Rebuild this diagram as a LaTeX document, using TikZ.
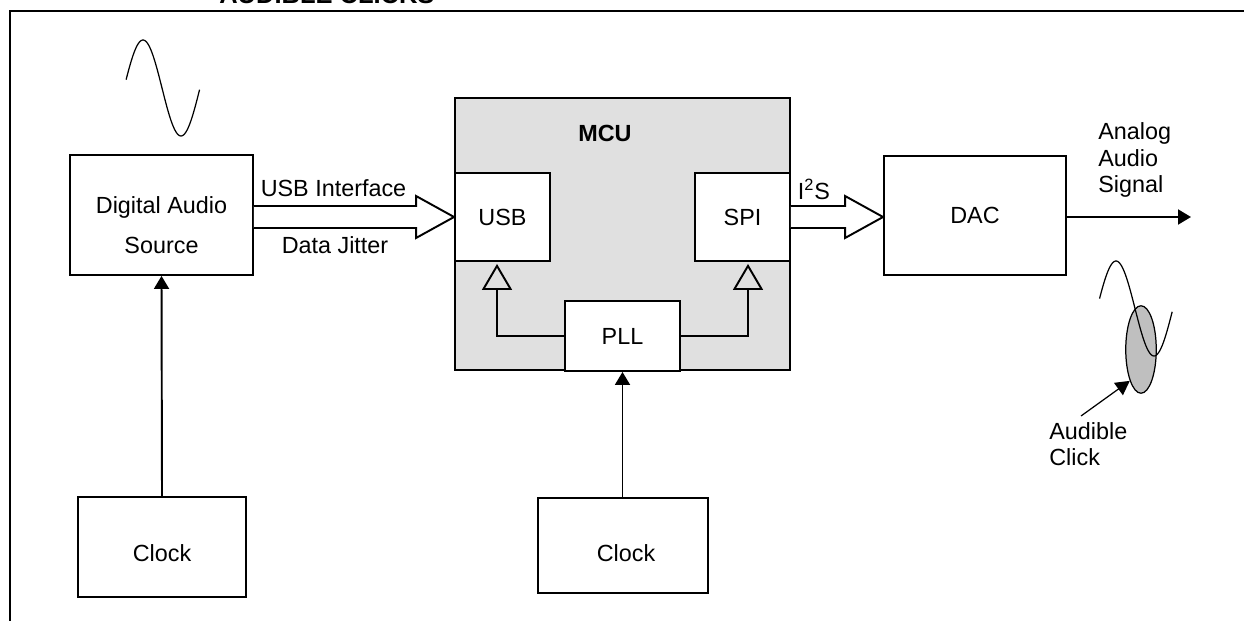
\documentclass[tikz,border=0pt]{standalone}
\usepackage{fontspec}
\setmainfont{Liberation Sans}
\usepackage{tikz}
\usetikzlibrary{arrows.meta, calc, shapes.geometric}
\definecolor{mcugray}{gray}{0.88}
\definecolor{blipgray}{gray}{0.75}
\tikzset{
  lbl/.style    ={font=\fontsize{13.3}{15.3}\selectfont, inner sep=0pt},
  blk/.style    ={draw, line width=1.1pt, fill=white, inner sep=0pt,
                  align=center, font=\fontsize{13.3}{22.7}\selectfont},
  mcubox/.style ={draw, line width=1.1pt, fill=mcugray, inner sep=0pt},
  % wide bus arrows and plain signal lines
  fat/.style    ={draw, fill=white, line width=1.1pt, line join=miter},
  sig/.style    ={-{Triangle[length=2.6mm, width=3mm]}, line width=1.1pt},
  tap/.style    ={-{Triangle[open, length=5.2mm, width=6mm]}, line width=1.1pt},
  wave/.style   ={line width=0.7pt},
  frm/.style    ={line width=1.7pt},
}

\begin{document}
\begin{tikzpicture}[x=0.02cm, y=-0.02cm]
  \useasboundingbox (0,0) rectangle (1244,621);
  \node[font=\bfseries\fontsize{14.5}{17}\selectfont, anchor=base west,
        inner sep=0pt] (ttl) at (219,4) {AUDIBLE CLICKS};
  \draw[frm] (10,625) -- (10,11) -- (1250,11);

  \node[mcubox, minimum width=6.7cm, minimum height=5.44cm] (mcu) at (622.5,234) {};
  \node[lbl, font=\bfseries\fontsize{13.3}{15.3}\selectfont] (mcut) at (605,133) {MCU};
  \node[blk, minimum width=1.9cm, minimum height=1.76cm] (usb) at (502.5,217) {USB};
  \node[blk, minimum width=1.9cm, minimum height=1.76cm] (spi) at (742.5,217) {SPI};
  \node[blk, minimum width=2.3cm, minimum height=1.4cm]  (pll) at (622.5,336) {PLL};

  \node[blk, minimum width=3.66cm, minimum height=2.4cm]  (src)  at (161.5,215) {};
  \node[blk, draw=none, fill=none] (srct) at (161.5,225) {Digital Audio\\Source};
  \node[blk, minimum width=3.36cm, minimum height=2.0cm]  (clkA) at (162,547) {};
  \node[lbl] (clkAt) at (162,553) {Clock};
  \node[blk, minimum width=3.4cm,  minimum height=1.9cm]  (clkB) at (623,545.5) {};
  \node[lbl] (clkBt) at (626,553) {Clock};
  \node[blk, minimum width=3.64cm, minimum height=2.38cm] (dac)  at (975,215.5) {DAC};

  \draw[fat] ($(src.east |- usb.west)+(0,-11)$) -- ($(usb.west)+(-38,-11)$)
    -- ($(usb.west)+(-38,-21)$) -- (usb.west) -- ($(usb.west)+(-38,21)$)
    -- ($(usb.west)+(-38,11)$) -- ($(src.east |- usb.west)+(0,11)$);
  \draw[fat] ($(spi.east)+(0,-11)$) -- ($(dac.west |- spi.east)+(-38,-11)$)
    -- ($(dac.west |- spi.east)+(-38,-21)$) -- (dac.west |- spi.east)
    -- ($(dac.west |- spi.east)+(-38,21)$) -- ($(dac.west |- spi.east)+(-38,11)$)
    -- ($(spi.east)+(0,11)$);
  \node[lbl] (usbif) at (333.5,188) {USB Interface};
  \node[lbl] (jit)   at (335,245)   {Data Jitter};
  \node[lbl] (i2s)   at (814,189)   {I\textsuperscript{2}S};

  \draw[tap] (pll.west) -| ($(usb.south)+(-5.5,2)$);
  \draw[tap] (pll.east) -| ($(spi.south)+(5.5,2)$);
  \draw[sig] (clkA.north) -- (src.south);
  \draw[sig] (clkB.north -| pll.south) -- (pll.south);

  \coordinate (out) at (1191,217);
  \draw[sig] (dac.east |- out) -- (out);
  \node[lbl, align=left, anchor=west] (ana) at (1098,160) {Analog\\Audio\\Signal};

  \draw[wave] plot[domain=-80:268, samples=60] ({143+\x*38/180},{88-48*cos(\x)});

  \node[ellipse, draw, fill=blipgray, line width=0.7pt, inner sep=0pt,
        minimum width=0.61cm, minimum height=1.75cm] (blip) at (1141,349.5) {};
  \draw[wave] plot[domain=-78:266, samples=60] ({1116+\x*38/180},{308.5-47.5*cos(\x)});
  \coordinate (ptr) at (1081,416);
  \draw[-{Triangle[length=2.8mm, width=3mm]}, line width=0.7pt] (ptr) -- (blip.south west);
  \node[lbl, align=left, anchor=west, font=\fontsize{13.3}{14.7}\selectfont]
    (aud) at (1049,444) {Audible\\Click};
\end{tikzpicture}
\end{document}
